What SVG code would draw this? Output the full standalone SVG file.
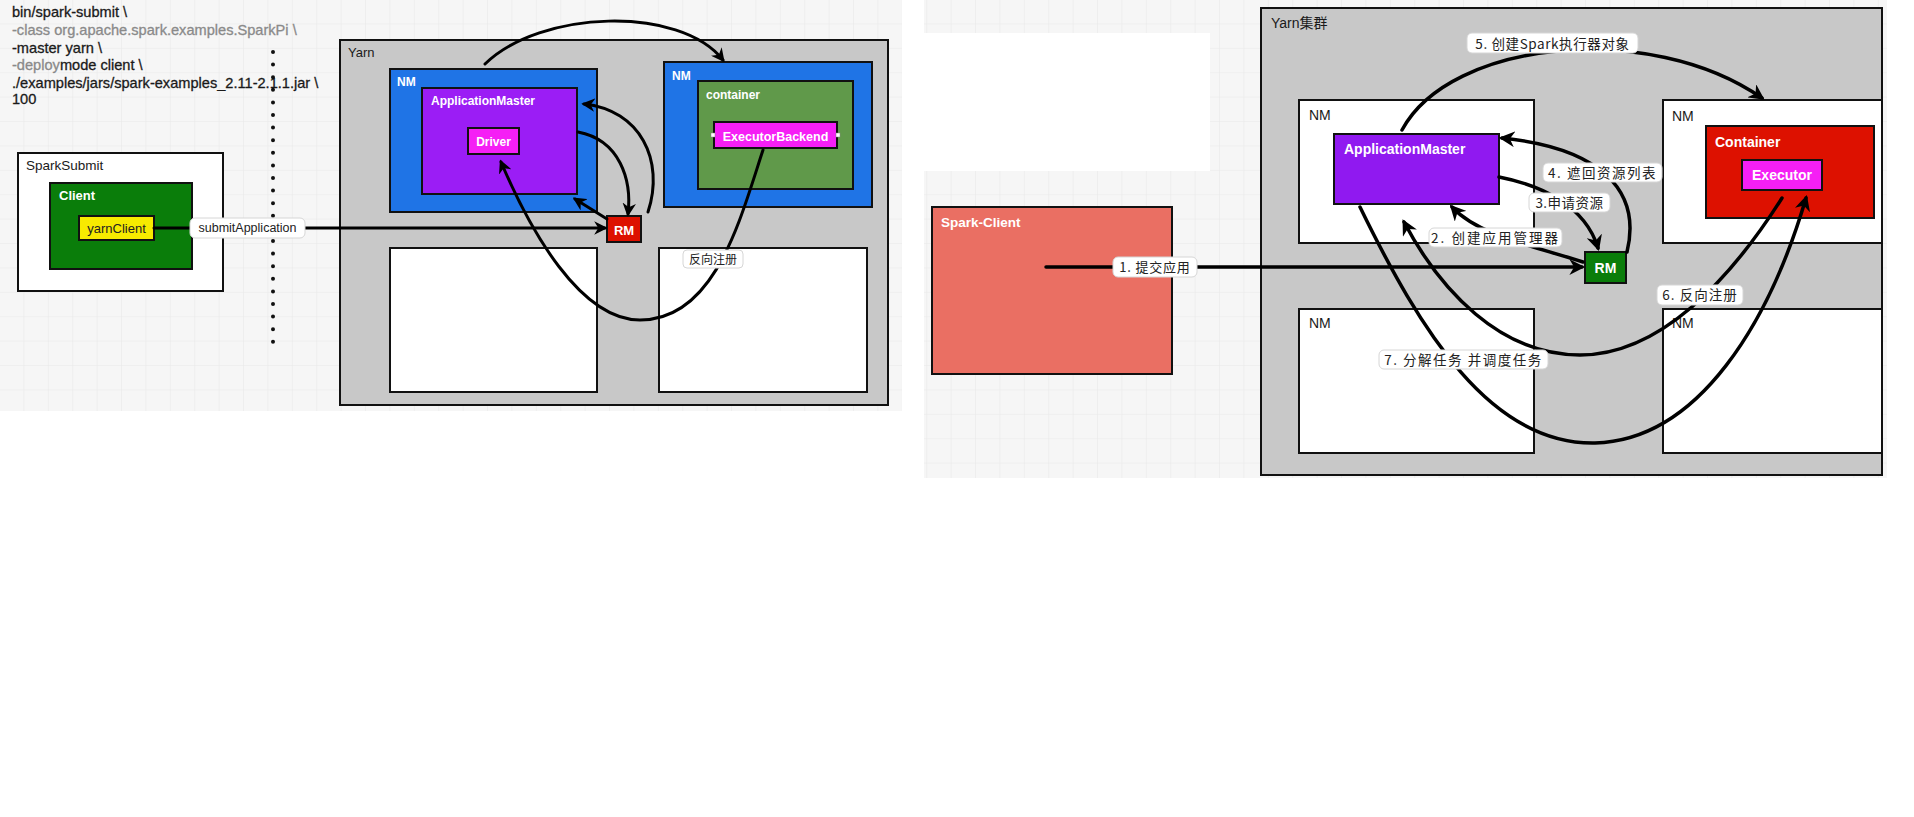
<svg xmlns="http://www.w3.org/2000/svg" width="1914" height="817" viewBox="0 0 1914 817">
<defs>
<pattern id="grid" width="24.4" height="24.4" patternUnits="userSpaceOnUse">
<rect width="24.4" height="24.4" fill="#f6f6f6"/>
<path d="M24.4,0 V24.4 M0,24.4 H24.4" fill="none" stroke="#e8e8e8" stroke-width="1"/>
</pattern>
<marker id="ah" viewBox="0 0 10 10" refX="8" refY="5" markerWidth="4.5" markerHeight="4.5" orient="auto" markerUnits="strokeWidth">
<path d="M0,0 L10,5 L0,10 L3,5 z" fill="#000"/>
</marker>
</defs>
<style>
text{font-family:"Liberation Sans","Noto Sans CJK SC",sans-serif}
.box{stroke:#111;stroke-width:2}
.wt{fill:#fff;font-weight:bold}
.bk{fill:#1a1a1a}
.gr{fill:#8a8a8a}
.cmd{font-size:14.6px;stroke-width:0.3}
.lbl{fill:#fff;stroke:#d6d6d6;stroke-width:1}
.cn{fill:none;stroke:#000;stroke-width:3;stroke-linecap:round}
.cn2{fill:none;stroke:#000;stroke-width:3.5;stroke-linecap:round}
.cjk{font-family:"Noto Sans CJK SC",sans-serif;fill:#222}
</style>
<rect width="1914" height="817" fill="#fff"/>
<rect x="0" y="0" width="902" height="411" fill="url(#grid)"/>
<rect x="924" y="0" width="963" height="478" fill="url(#grid)"/>
<rect x="924" y="33" width="286" height="138" fill="#fff"/>

<g id="command-text" class="cmd">
<text x="12" y="17" class="bk" stroke="#1a1a1a">bin/spark-submit \</text>
<text x="12" y="35" class="gr" stroke="#8a8a8a">-class org.apache.spark.examples.SparkPi \</text>
<text x="12" y="53" class="bk" stroke="#1a1a1a">-master yarn \</text>
<text x="12" y="70"><tspan class="gr" stroke="#8a8a8a">-deploy</tspan><tspan class="bk" stroke="#1a1a1a">mode client \</tspan></text>
<text x="12" y="88" class="bk" stroke="#1a1a1a">./examples/jars/spark-examples_2.11-2.1.1.jar \</text>
<text x="12" y="104" class="bk" stroke="#1a1a1a">100</text>
</g>
<line id="divider" x1="273" y1="52" x2="273" y2="354" stroke="#111" stroke-width="4" stroke-linecap="round" stroke-dasharray="0 12.6"/>

<g id="sparksubmit">
<rect x="18" y="153" width="205" height="138" fill="#fff" class="box"/>
<text x="26" y="170" font-size="13.5" class="bk">SparkSubmit</text>
</g>
<g id="client">
<rect x="50" y="183" width="142" height="86" fill="#0a7d0a" class="box"/>
<text x="59" y="200" font-size="13" class="wt">Client</text>
</g>
<g id="yarnclient">
<rect x="79" y="216" width="75" height="24" fill="#f7ea00" class="box"/>
<text x="116.5" y="233" font-size="13" text-anchor="middle" fill="#222">yarnClient</text>
</g>

<g id="yarn">
<rect x="340" y="40" width="548" height="365" fill="#c8c8c8" class="box"/>
<text x="348" y="57" font-size="13" class="bk">Yarn</text>
</g>
<g id="nm1">
<rect x="390" y="69" width="207" height="143" fill="#1f74e6" class="box"/>
<text x="397" y="86" font-size="12" class="wt">NM</text>
</g>
<g id="appmaster-left">
<rect x="422" y="88" width="155" height="106" fill="#9b1df5" class="box"/>
<text x="431" y="105" font-size="12" class="wt">ApplicationMaster</text>
</g>
<g id="driver">
<rect x="468" y="128" width="51" height="26" fill="#f51ff5" class="box"/>
<text x="493.5" y="146" font-size="12" text-anchor="middle" class="wt">Driver</text>
</g>
<g id="nm2">
<rect x="664" y="62" width="208" height="145" fill="#1f74e6" class="box"/>
<text x="672" y="80" font-size="12" class="wt">NM</text>
</g>
<g id="container-left">
<rect x="698" y="81" width="155" height="108" fill="#60994a" class="box"/>
<text x="706" y="99" font-size="12" class="wt">container</text>
</g>
<g id="executorbackend">
<rect x="714" y="122" width="123" height="26" fill="#f51ff5" class="box"/>
<text x="775.5" y="141" font-size="12.5" text-anchor="middle" class="wt">ExecutorBackend</text>
<rect x="711" y="133" width="4" height="4" fill="#fff" stroke="#888" stroke-width="0.5"/>
<rect x="836" y="133" width="4" height="4" fill="#fff" stroke="#888" stroke-width="0.5"/>
</g>
<g id="rm-left">
<rect x="607" y="216" width="34" height="26" fill="#dd1100" class="box"/>
<text x="624" y="235" font-size="13" text-anchor="middle" class="wt">RM</text>
</g>
<g id="nm3"><rect x="390" y="248" width="207" height="144" fill="#fff" class="box"/></g>
<g id="nm4"><rect x="659" y="248" width="208" height="144" fill="#fff" class="box"/></g>

<g id="spark-client">
<rect x="932" y="207" width="240" height="167" fill="#ea6f63" class="box"/>
<text x="941" y="227" font-size="13.5" class="wt">Spark-Client</text>
</g>
<g id="yarn-cluster">
<rect x="1261" y="8" width="621" height="467" fill="#c8c8c8" class="box"/>
<text x="1271" y="28" font-size="14" class="bk">Yarn集群</text>
</g>
<g id="nm-r1">
<rect x="1299" y="100" width="235" height="143" fill="#fff" class="box"/>
<text x="1309" y="120" font-size="14" class="bk">NM</text>
</g>
<g id="appmaster-right">
<rect x="1334" y="134" width="165" height="70" fill="#9019f0" class="box"/>
<text x="1344" y="154" font-size="14" class="wt">ApplicationMaster</text>
</g>
<g id="nm-r2">
<rect x="1663" y="100" width="219" height="143" fill="#fff" class="box"/>
<text x="1672" y="121" font-size="14" class="bk">NM</text>
</g>
<g id="container-right">
<rect x="1706" y="126" width="168" height="92" fill="#dd1100" class="box"/>
<text x="1715" y="147" font-size="14" class="wt">Container</text>
</g>
<g id="executor">
<rect x="1742" y="160" width="80" height="30" fill="#f51ff5" class="box"/>
<text x="1782" y="180" font-size="14" text-anchor="middle" class="wt">Executor</text>
</g>
<g id="rm-right">
<rect x="1585" y="252" width="41" height="31" fill="#0a7d0a" class="box"/>
<text x="1605.5" y="273" font-size="14" text-anchor="middle" class="wt">RM</text>
</g>
<g id="nm-r3">
<rect x="1299" y="309" width="235" height="144" fill="#fff" class="box"/>
<text x="1309" y="328" font-size="14" class="bk">NM</text>
</g>
<g id="nm-r4">
<rect x="1663" y="309" width="219" height="144" fill="#fff" class="box"/>
<text x="1672" y="328" font-size="14" class="bk">NM</text>
</g>

<g id="connectors">
<path class="cn" d="M154,228 H605" marker-end="url(#ah)"/>
<path class="cn" d="M485,64 C540,10 680,5 723,60" marker-end="url(#ah)"/>
<path class="cn" d="M578,132 C620,140 632,180 628,214" marker-end="url(#ah)"/>
<path class="cn" d="M648,212 C665,160 640,110 584,104" marker-end="url(#ah)"/>
<path class="cn" d="M607,219 L575,199" marker-end="url(#ah)"/>
<path class="cn" d="M763,150 C740,220 715,320 640,320 C580,320 530,230 501,162" marker-end="url(#ah)"/>

<path class="cn2" d="M1046,267 H1582" marker-end="url(#ah)"/>
<path class="cn2" d="M1583,262 C1530,245 1478,235 1452,207" marker-end="url(#ah)"/>
<path class="cn2" d="M1499,177 C1540,185 1585,205 1598,248" marker-end="url(#ah)"/>
<path class="cn2" d="M1627,252 C1642,190 1600,148 1502,138" marker-end="url(#ah)"/>
<path class="cn2" d="M1402,130 C1450,40 1650,20 1762,98" marker-end="url(#ah)"/>
<path class="cn2" d="M1782,198 C1730,280 1660,355 1580,355 C1500,355 1440,290 1404,222" marker-end="url(#ah)"/>
<path class="cn2" d="M1360,207 C1420,330 1490,445 1595,443 C1700,440 1770,320 1806,198" marker-end="url(#ah)"/>

<rect class="lbl" x="190" y="218" width="115" height="20" rx="5"/>
<text x="247.5" y="232" font-size="12.5" text-anchor="middle" fill="#222">submitApplication</text>
<rect class="lbl" x="683" y="250" width="60" height="18" rx="4"/>
<text x="713" y="264" font-size="12" text-anchor="middle" class="cjk">反向注册</text>

<rect class="lbl" x="1113" y="257" width="84" height="20" rx="5"/>
<text x="1155" y="272" font-size="13" text-anchor="middle" class="cjk" letter-spacing="0.8">1. 提交应用</text>
<rect class="lbl" x="1467" y="33" width="171" height="20" rx="5"/>
<text x="1552.5" y="48.5" font-size="13.5" text-anchor="middle" class="cjk" letter-spacing="0.6">5. 创建Spark执行器对象</text>
<rect class="lbl" x="1543" y="163" width="119" height="19" rx="5"/>
<text x="1602.5" y="177.5" font-size="13.5" text-anchor="middle" class="cjk" letter-spacing="1.5">4. 遮回资源列表</text>
<rect class="lbl" x="1529" y="193" width="81" height="19" rx="5"/>
<text x="1569.5" y="207.5" font-size="13.5" text-anchor="middle" class="cjk" letter-spacing="0.5">3.申请资源</text>
<rect class="lbl" x="1429" y="228" width="133" height="19" rx="5"/>
<text x="1495.5" y="242.5" font-size="13.5" text-anchor="middle" class="cjk" letter-spacing="2">2. 创建应用管理器</text>
<rect class="lbl" x="1657" y="285" width="86" height="20" rx="5"/>
<text x="1700" y="300" font-size="13.5" text-anchor="middle" class="cjk" letter-spacing="1">6. 反向注册</text>
<rect class="lbl" x="1379" y="350" width="169" height="19" rx="5"/>
<text x="1463.5" y="364.5" font-size="13.5" text-anchor="middle" class="cjk" letter-spacing="1.5">7. 分解任务 并调度任务</text>
</g>
</svg>
